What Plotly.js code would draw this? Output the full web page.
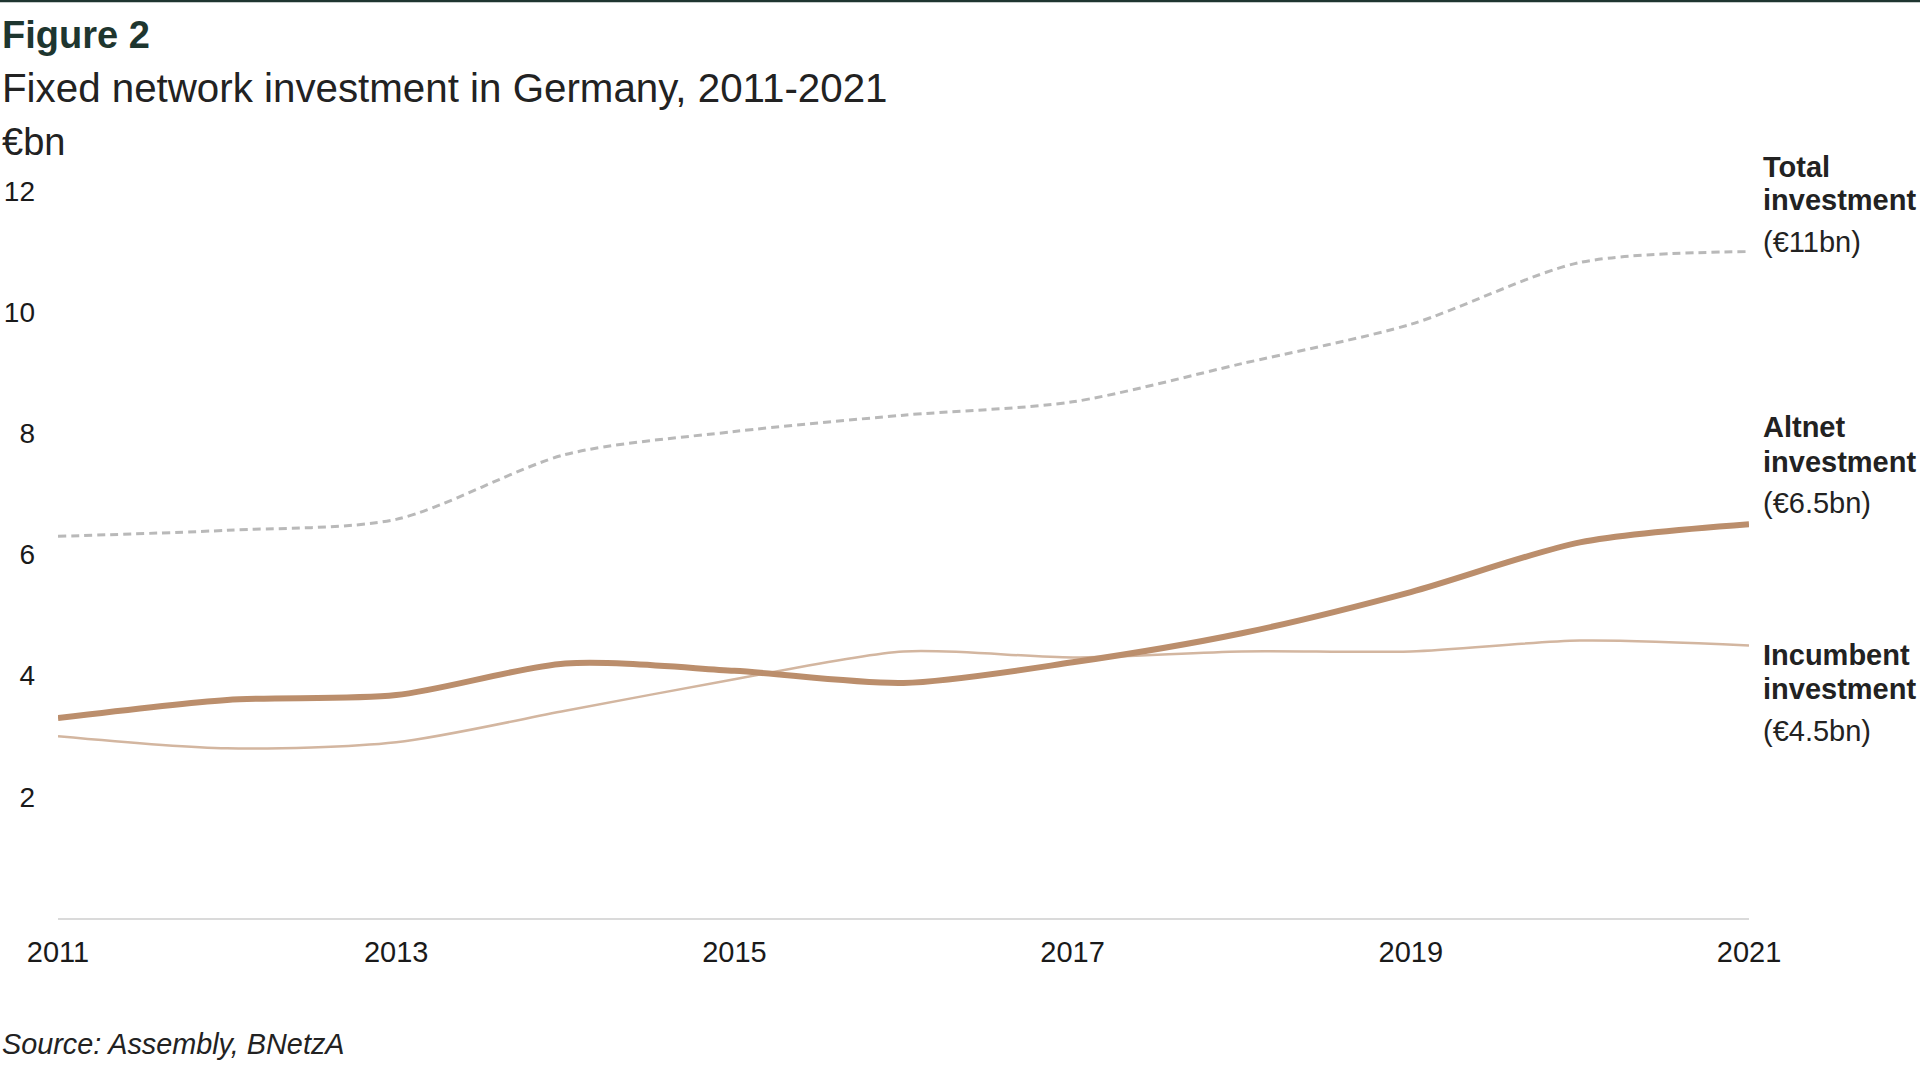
<!DOCTYPE html>
<html>
<head>
<meta charset="utf-8">
<script src="https://cdn.plot.ly/plotly-3.0.1.min.js"></script>
<style>
  html, body { margin: 0; padding: 0; background: #fff; }
  #chart { width: 1920px; height: 1080px; }
</style>
</head>
<body>
<div id="chart"></div>
<script>
// data, €bn per year
const years = [2011, 2012, 2013, 2014, 2015, 2016, 2017, 2018, 2019, 2020, 2021];
const totalInvestment = [6.3, 6.4, 6.58, 7.65, 8.03, 8.3, 8.52, 9.15, 9.8, 10.82, 11.0];
const altnetInvestment = [3.3, 3.6, 3.68, 4.2, 4.08, 3.88, 4.22, 4.7, 5.38, 6.2, 6.5];
const incumbentInvestment = [3.0, 2.8, 2.9, 3.42, 3.94, 4.4, 4.3, 4.4, 4.4, 4.58, 4.5];

const yTicks = [2, 4, 6, 8, 10, 12];
const xTicks = [2011, 2013, 2015, 2017, 2019, 2021];

const W = 1920, H = 1080;
const m = { l: 58, r: 171, t: 191, b: 162 };
const plotW = W - m.l - m.r;
const plotH = H - m.t - m.b;
// pixel -> paper helpers for the loose text
const px = (x) => (x - m.l) / plotW;
const py = (y) => (H - m.b - y) / plotH;

const font = 'Liberation Sans, Arial, Helvetica, sans-serif';

const traces = [
  {
    x: years,
    y: totalInvestment,
    type: 'scatter',
    mode: 'lines',
    name: 'Total investment',
    line: { color: '#b9b9b9', width: 3, dash: '8px,5px', shape: 'spline', smoothing: 0.8 },
  },
  {
    x: years,
    y: incumbentInvestment,
    type: 'scatter',
    mode: 'lines',
    name: 'Incumbent investment',
    line: { color: '#d3b6a0', width: 2.5, shape: 'spline', smoothing: 0.8 },
  },
  {
    x: years,
    y: altnetInvestment,
    type: 'scatter',
    mode: 'lines',
    name: 'Altnet investment',
    line: { color: '#bb8e6c', width: 6, shape: 'spline', smoothing: 0.8 },
  },
];

function label(text, x, y, size, opts) {
  return Object.assign({
    text: text,
    xref: 'paper',
    yref: 'paper',
    x: px(x),
    y: py(y),
    xanchor: 'left',
    yanchor: 'middle',
    showarrow: false,
    font: { family: font, size: size, color: '#222' },
  }, opts || {});
}

const annotations = [
  label('<b>Figure 2</b>', 0, 35, 38, { font: { family: font, size: 38, color: '#1e362f' } }),
  label('Fixed network investment in Germany, 2011-2021', 0, 89, 40.3),
  label('€bn', 0, 142, 38),

  label('<b>Total</b>', 1761, 167, 29),
  label('<b>investment</b>', 1761, 200, 29),
  label('(€11bn)', 1761, 242, 29),

  label('<b>Altnet</b>', 1761, 427, 29),
  label('<b>investment</b>', 1761, 462, 29),
  label('(€6.5bn)', 1761, 503, 29),

  label('<b>Incumbent</b>', 1761, 655, 29),
  label('<b>investment</b>', 1761, 689, 29),
  label('(€4.5bn)', 1761, 731, 29),

  label('<i>Source: Assembly, BNetzA</i>', 0, 1044, 28.8),
];

const layout = {
  width: W,
  height: H,
  margin: m,
  paper_bgcolor: '#ffffff',
  plot_bgcolor: '#ffffff',
  showlegend: false,
  font: { family: font, size: 29, color: '#1a1a1a' },
  xaxis: {
    range: [2011, 2021],
    tickvals: xTicks,
    ticktext: xTicks.map(String),
    showgrid: false,
    zeroline: false,
    showline: true,
    linecolor: '#dadada',
    linewidth: 2,
    ticks: '',
    ticklabelstandoff: 7,
    tickfont: { family: font, size: 29, color: '#1a1a1a' },
    fixedrange: true,
  },
  yaxis: {
    range: [0, 12],
    tickvals: yTicks,
    ticktext: yTicks.map(String),
    showgrid: false,
    zeroline: false,
    showline: false,
    ticks: '',
    ticklabelstandoff: 22,
    tickfont: { family: font, size: 28, color: '#1a1a1a' },
    fixedrange: true,
  },
  shapes: [
    {
      type: 'line',
      xref: 'paper',
      yref: 'paper',
      x0: px(0),
      x1: px(W),
      y0: py(1),
      y1: py(1),
      line: { color: '#1f3530', width: 2.5 },
    },
  ],
  annotations: annotations,
};

Plotly.newPlot('chart', traces, layout, { displayModeBar: false, staticPlot: true });
</script>
</body>
</html>
